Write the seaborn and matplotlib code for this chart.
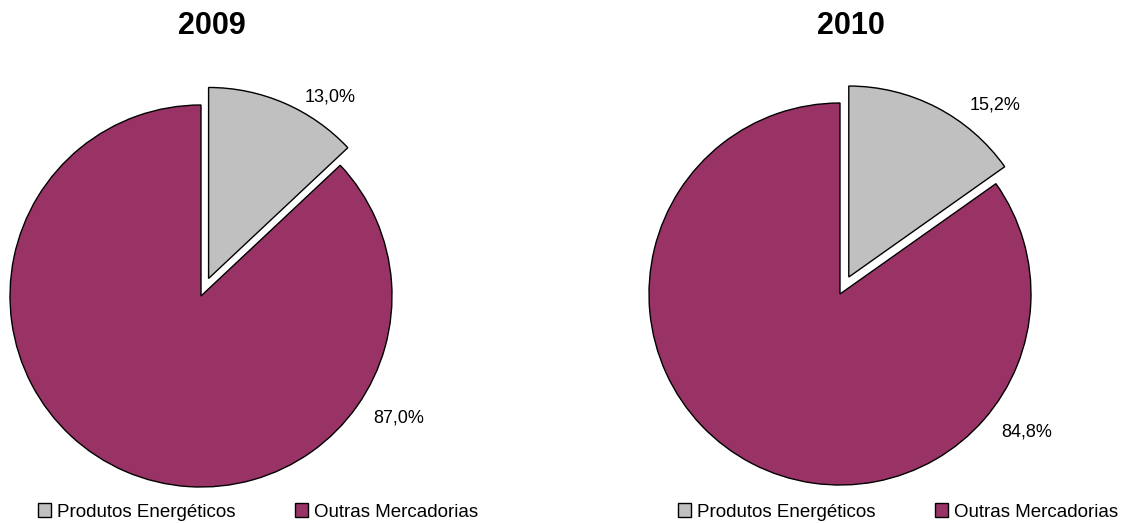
import matplotlib
matplotlib.use("Agg")
import matplotlib.pyplot as plt
import seaborn as sns

sns.set_theme(style="white")
plt.rcParams['font.family'] = ['Liberation Sans', 'DejaVu Sans']
plt.rcParams['text.color'] = 'black'

years = ["2009", "2010"]
categories = ["Produtos Energéticos", "Outras Mercadorias"]
values_2009 = [13.0, 87.0]
values_2010 = [15.2, 84.8]
label_2009 = ["13,0%", "87,0%"]
label_2010 = ["15,2%", "84,8%"]

colors = sns.color_palette(["#C0C0C0", "#993366"])

W, H = 1126, 523
fig = plt.figure(figsize=(W / 100, H / 100), dpi=100)

R = 191.0
half = 210.0
# pie centers in pixels (from bottom-left)
centers = [(201, H - 296), (840, H - 294)]
label_offsets = [[(0.675, 1.04), (1.037, -0.64)], [(0.81, 0.99), (0.98, -0.72)]]
title_pos = [(212, H - 26), (851, H - 26)]
legend_pos = [(258, H - 512), (898, H - 512)]

for i, (yr, vals, labs) in enumerate(zip(years, [values_2009, values_2010], [label_2009, label_2010])):
    cx, cy = centers[i]
    ax = fig.add_axes([(cx - half) / W, (cy - half) / H, 2 * half / W, 2 * half / H])
    wedges, _ = ax.pie(vals, colors=colors, startangle=90, counterclock=False,
                       explode=[0.1, 0.0],
                       wedgeprops=dict(edgecolor="black", linewidth=1.0))
    lim = half / R
    ax.set_xlim(-lim, lim)
    ax.set_ylim(-lim, lim)
    ax.set_aspect("equal")
    ax.axis("off")
    for (dx, dy), t in zip(label_offsets[i], labs):
        ax.text(dx, dy, t, ha="center", va="center", fontsize=13, color="black")
    fig.text(title_pos[i][0] / W, title_pos[i][1] / H, yr, ha="center", va="center",
             fontsize=22, fontweight="bold", color="black")
    fig.legend(wedges, categories, loc="center",
               bbox_to_anchor=(legend_pos[i][0] / W, legend_pos[i][1] / H),
               ncol=2, frameon=False, fontsize=13.5, handlelength=0.7, handleheight=0.7,
               handletextpad=0.3, columnspacing=3.2, borderpad=0, borderaxespad=0)

fig.savefig("out.png", dpi=100, facecolor="white")
